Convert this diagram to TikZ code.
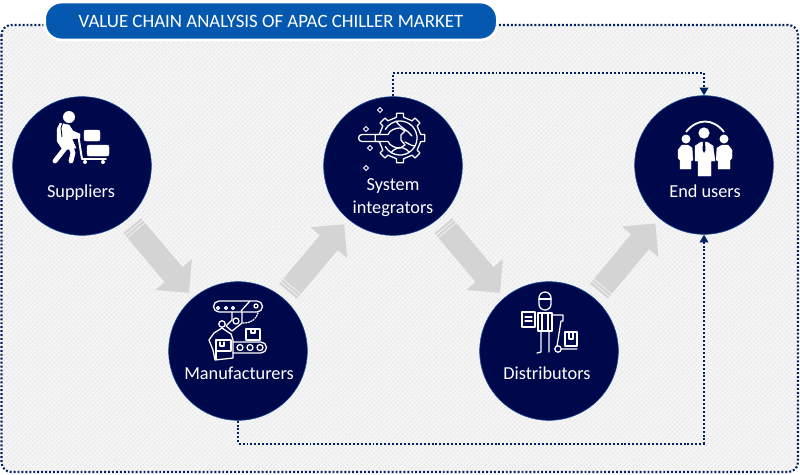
\documentclass[tikz,border=0pt]{standalone}
\usepackage{fontspec}
\setmainfont{Carlito}
\usepackage{tikz}
\usetikzlibrary{positioning,backgrounds,arrows.meta,patterns.meta}
\pgfdeclarelayer{background}
\pgfsetlayers{background,main}
\definecolor{hubnavy}{RGB}{0,8,76}
\definecolor{hubedge}{RGB}{20,80,150}
\definecolor{dotnavy}{RGB}{0,32,96}
\definecolor{pillblue}{RGB}{5,88,176}
\definecolor{flowgray}{RGB}{212,212,212}
\definecolor{hatchgray}{RGB}{232,232,232}

\begin{document}
\begin{tikzpicture}[
  x=0.025cm, y=-0.025cm,
  every node/.style={font=\fontsize{13}{15}\selectfont},
  panel/.style={draw=dotnavy, line width=1.5pt, dash pattern=on 1.4pt off 1.4pt,
    rounded corners=7pt, preaction={fill=white!96!black},
    pattern={Lines[angle=45,distance=2.4pt,line width=0.8pt]}, pattern color=hatchgray},
  pill/.style={draw=white, line width=2pt, fill=pillblue, rounded corners=12pt,
    minimum width=322pt, minimum height=27pt, inner sep=0pt, text=white,
    font=\fontsize{13.4}{15}\selectfont},
  hub/.style={circle, draw=hubedge, line width=0.4pt, fill=hubnavy,
    minimum size=98.6pt, inner sep=0pt},
  hubtext/.style={text=white, align=center, inner sep=0pt},
  flow/.style={draw=flowgray, line width=16.5pt, shorten <=1.95cm, shorten >=1.9cm,
    dash pattern=on 1.5pt off 0.8pt on 1.5pt off 0.8pt on 300pt,
    -{Triangle[length=17pt,width=33pt]}},
  link/.style={draw=dotnavy, line width=1.5pt, dash pattern=on 1.4pt off 1.4pt,
    -{Triangle[length=5.5pt,width=6pt]}},
  icon/.style={draw=white, line width=0.9pt, line join=round, line cap=round},
  solid icon/.style={fill=white, draw=white, line width=0.3pt, line join=round},
]
\useasboundingbox (0,0) rectangle (800,474);

% hubs
\node[hub] at ( 82,166) (sup) {};
\node[hub] at (238,351) (man) {};
\node[hub] at (393,166) (sys) {};
\node[hub] at (549,351) (dis) {};
\node[hub] at (704,165) (usr) {};

\node[hubtext] at ( 81,193) (suptext) {Suppliers};
\node[hubtext] at (239,373) (mantext) {Manufacturers};
\node[hubtext] at (393,186) (systext) {System};
\node[hubtext] at (393,209) (intext)  {integrators};
\node[hubtext] at (547,373) (distext) {Distributors};
\node[hubtext] at (705,191) (usrtext) {End users};

\begin{pgfonlayer}{background}
\path[panel] (1.5,25) rectangle (798,472);
\node[pill] at (271,21) (title) {VALUE CHAIN ANALYSIS OF APAC CHILLER MARKET};
\draw[flow] (sup.center) -- (man.center);
\draw[flow] (man.center) -- (sys.center);
\draw[flow] (sys.center) -- (dis.center);
\draw[flow] (dis.center) -- (usr.center);
\draw[link] (sys.north) -- ++(0,-23.5) -| (usr.north);
\draw[link] (man.south) -- ++(0,23) -| (usr.south);
\end{pgfonlayer}

% supplier icon
\fill[white] (69,117) circle (6);
\path[solid icon] (60,123) -- (69,125) -- (73,131) -- (80,134) -- (80,138) -- (72,139)
  -- (76,148) -- (63,150) -- (57,141) -- (57,129) -- cycle;
\draw[white, line width=3.4pt, line cap=round] (66,147) -- (55,161);
\draw[white, line width=3.4pt, line cap=round, line join=round] (71,147) -- (73,153) -- (71,161);
\draw[hubnavy, line width=0.6pt] (63,122) -- (61,128) -- (62,137);
\path[solid icon, rounded corners=1.5pt] (84,130) rectangle (100,141);
\path[solid icon, rounded corners=1.5pt] (87,145) rectangle (109,156);
\draw[icon, line width=1.4pt] (78,134) -- (82,159) -- (106,159);
\fill[white] (85,162) circle (2) (103,162) circle (2);

% manufacturer icon
\draw[icon] (219,301) -- (257,301) arc (-90:90:5.5) -- (219,312) arc (90:270:5.5) -- cycle;
\draw[icon] (218,308) circle (1.5) (226,308) circle (1.5) (233,308) circle (1.5) (256,306) circle (2);
\draw[icon] (241,311) -- (250,301);
\draw[icon] (232,312) -- (232,320) -- (226,326) (242,312) -- (242,323) -- (232,331) -- (226,326);
\draw[icon] (222,324) circle (3.2) (236,321) circle (3);
\draw[icon, densely dotted] (243,323) .. controls (252,323) and (256,319) .. (258,313);
\draw[icon] (214,333) -- (222,328) -- (231,334) -- (233,340) -- (233,358) -- (215,360)
  -- (213,350) -- (209,340) -- cycle;
\draw[icon] (216,340) -- (231,340) -- (231,351) -- (216,351) -- cycle (220,342) -- (220,346) -- (224,346) -- (224,342);
\draw[icon] (216,351) -- (216,359);
\draw[icon] (246,329) rectangle (260,340) (251,329) -- (251,333) -- (255,333) -- (255,329);
\draw[icon] (233,342) -- (261,342) arc (-90:90:5.5) -- (233,353);
\draw[icon] (240,347.5) circle (3) (250,347.5) circle (3) (260,347.5) circle (3);

% integrator icon
\begin{scope}[shift={(400,138)}]
\draw[icon] (-10:21) \foreach \a in {0,45,...,315} {
  -- (\a-10:21) -- (\a-8:25) -- (\a+8:25) -- (\a+10:21)
  } -- cycle;
\draw[icon] (150:17) arc (150:-150:17);
\draw[icon] (-38,-3.5) -- (-12,-3.5) .. controls (-10,-8) and (-5,-10) .. (0,-10) -- (5,-7)
  -- (1,-3) -- (1,2) -- (5,7) -- (0,10) .. controls (-5,10) and (-10,8) .. (-12,3.5)
  -- (-38,3.5) arc (90:270:3.5) -- cycle;
\draw[icon] (-4,-17) .. controls (0,-10) and (8,-8) .. (12,-2) (5,4) .. controls (9,6) and (12,8) .. (15,8)
  (-9,15) .. controls (-5,9) and (3,7) .. (9,14);
\end{scope}
\foreach \x/\y in {380/110,366/129,370/148,366/168}
  \draw[white, line width=0.7pt] (\x,\y-2.5) -- (\x+2.5,\y) -- (\x,\y+2.5) -- (\x-2.5,\y) -- cycle;

% distributor icon
\draw[icon] (539,304) -- (539,298) arc (180:360:6) -- (551,304) arc (0:180:6) -- cycle;
\draw[icon] (539,299) -- (551,299);
\draw[icon] (538,313) rectangle (552,331) (542,313) -- (542,331) (548,313) -- (548,331);
\draw[icon] (541,331) -- (541,352) -- (537,353) (549,331) -- (549,352);
\draw[icon] (522,312) rectangle (535,327) (525,317) -- (532,317) (525,321) -- (532,321);
\draw[icon] (552,315) -- (563,315) -- (563,321) -- (561,321) -- (557,346);
\draw[icon] (558,349) circle (3.2) (561,349) -- (577,349);
\draw[icon] (565,332) rectangle (577,346) (569,332) -- (569,339) -- (573,339) -- (573,332);

% end user icon
\draw[white, line width=1.3pt] (686,132) .. controls (697,118) and (713,118) .. (724,132);
\fill[white] (704,133) circle (5.6) (686,139) circle (4.5) (724,139) circle (4.5);
\path[solid icon] (695,146) -- (701,142) -- (707,142) -- (713,146) -- (715,161) -- (711,161)
  -- (711,176) -- (698,176) -- (698,161) -- (695,161) -- cycle;
\path[fill=hubnavy] (703,142) -- (705,142) -- (705.5,150) -- (704,153) -- (702.5,150) -- cycle;
\path[solid icon] (678,150) -- (682,145) -- (688,145) -- (692,148) -- (693,160) -- (691,161)
  -- (691,169) -- (680,169) -- (680,160) -- (678,158) -- cycle;
\path[solid icon] (732,150) -- (728,145) -- (722,145) -- (717,148) -- (716,160) -- (718,161)
  -- (718,169) -- (730,169) -- (730,160) -- (732,158) -- cycle;
\end{tikzpicture}
\end{document}
